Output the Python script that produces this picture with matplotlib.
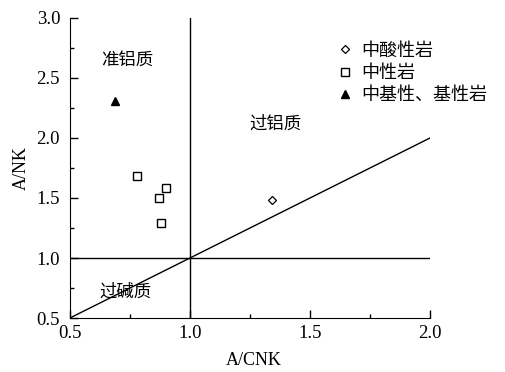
"""
A/CNK vs A/NK diagram (Shand), three rock groups.
"""
import matplotlib
matplotlib.use("Agg")
import matplotlib.pyplot as plt
from matplotlib.ticker import MultipleLocator

plt.rcParams["font.family"] = ["Liberation Serif", "Noto Sans CJK SC"]

# 中酸性岩
acid_x = [1.34]
acid_y = [1.48]
# 中性岩
inter_x = [0.78, 0.90, 0.87, 0.88]
inter_y = [1.68, 1.58, 1.50, 1.29]
# 中基性、基性岩
basic_x = [0.69]
basic_y = [2.31]

LEGEND = ("中酸性岩", "中性岩", "中基性、基性岩")
REGIONS = (("准铝质", 0.74, 2.65), ("过铝质", 1.355, 2.12), ("过碱质", 0.73, 0.72))
CJK = ["Noto Sans CJK SC", "DejaVu Sans"]

fig = plt.figure(figsize=(5.06, 3.72), dpi=100)
ax = fig.add_axes([0.138, 0.145, 0.712, 0.807])

# field boundaries
ax.plot([0.5, 2.0], [1.0, 1.0], color="k", lw=1.0)
ax.plot([1.0, 1.0], [0.5, 3.0], color="k", lw=1.0)
ax.plot([0.5, 2.0], [0.5, 2.0], color="k", lw=1.0)

h1, = ax.plot(acid_x, acid_y, ls="none", marker="D", ms=4, mfc="white",
              mec="k", mew=0.9)
h2, = ax.plot(inter_x, inter_y, ls="none", marker="s", ms=6, mfc="white",
              mec="k", mew=1.0)
h3, = ax.plot(basic_x, basic_y, ls="none", marker="^", ms=6, mfc="k",
              mec="k")

for text, x, y in REGIONS:
    ax.text(x, y, text, fontsize=12.5, family=CJK, ha="center", va="center")

ax.legend([h1, h2, h3], LEGEND, loc="upper left", bbox_to_anchor=(0.725, 0.945),
          frameon=False, prop={"family": CJK, "size": 13}, handlelength=0.8,
          handletextpad=0.5, labelspacing=0.24, borderaxespad=0)

ax.set_xlim(0.5, 2.0)
ax.set_ylim(0.5, 3.0)
ax.xaxis.set_major_locator(MultipleLocator(0.5))
ax.xaxis.set_minor_locator(MultipleLocator(0.25))
ax.yaxis.set_major_locator(MultipleLocator(0.5))
ax.yaxis.set_minor_locator(MultipleLocator(0.25))
ax.xaxis.set_major_formatter(lambda v, p: f"{v:.1f}")
ax.yaxis.set_major_formatter(lambda v, p: f"{v:.1f}")
ax.tick_params(which="both", direction="in", labelsize=13.5, width=1.0)
ax.tick_params(which="major", length=6)
ax.tick_params(which="minor", length=3)
ax.tick_params(axis="y", pad=7)
ax.tick_params(axis="x", pad=5)
ax.spines["top"].set_visible(False)
ax.spines["right"].set_visible(False)

ax.set_xlabel("A/CNK", fontsize=13, labelpad=7)
ax.xaxis.label.set_x(0.511)
ax.set_ylabel("A/NK", fontsize=13, labelpad=5)

fig.savefig("out.png", dpi=100)
